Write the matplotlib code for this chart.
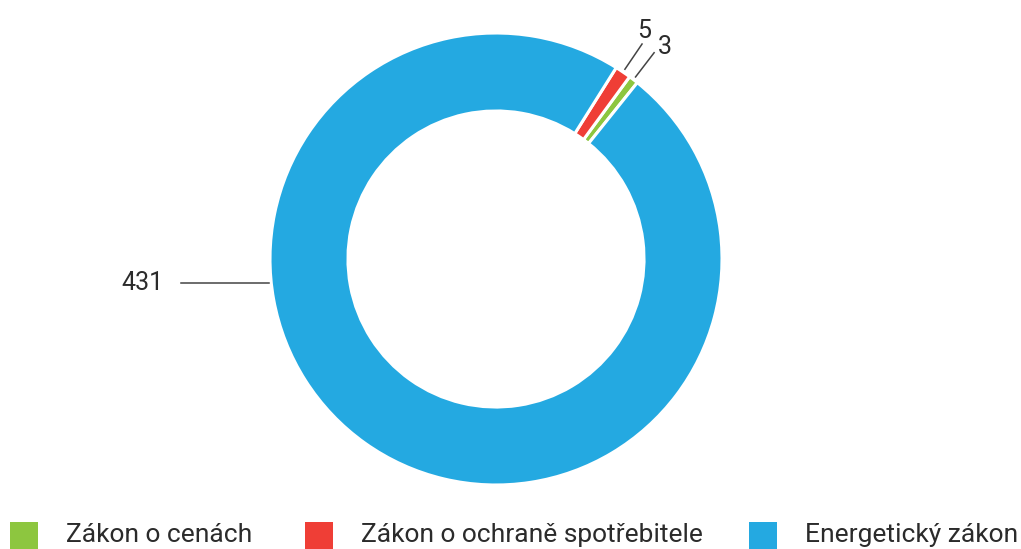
import numpy as np
import matplotlib.pyplot as plt
from matplotlib.patches import Rectangle

labels = ['Zákon o cenách', 'Zákon o ochraně spotřebitele', 'Energetický zákon']
values = [3, 5, 431]
colors = ['#8DC63F', '#EF3E36', '#24A9E1']

plt.rcParams['font.family'] = ['Roboto', 'DejaVu Sans']

W, H = 1021, 549
fig = plt.figure(figsize=(W / 100, H / 100), dpi=100)
cx, cy, R = 496, 259, 226
ax = fig.add_axes([(cx - R) / W, (H - cy - R) / H, 2 * R / W, 2 * R / H])

wedges, _ = ax.pie(values, colors=colors, startangle=51.3, counterclock=True,
                   radius=1.0, wedgeprops=dict(width=0.345, edgecolor='white', linewidth=2.2))
ax.set_xlim(-1, 1)
ax.set_ylim(-1, 1)
ax.set_aspect('equal')

txt_col = '#2b2b2b'
line_col = '#444444'
fs = 18

# small slices: radial leader lines
offsets = {0: (8, 4), 1: (1.5, 9.5)}
for i, w in enumerate(wedges[:2]):
    ang = np.deg2rad((w.theta1 + w.theta2) / 2)
    x0, y0 = 1.015 * np.cos(ang), 1.015 * np.sin(ang)
    x1, y1 = 1.15 * np.cos(ang), 1.15 * np.sin(ang)
    ax.plot([x0, x1], [y0, y1], color=line_col, lw=1.1, clip_on=False)
    ax.annotate(str(values[i]), (x1, y1), xytext=offsets[i], textcoords='offset points',
                ha='center', va='center', fontsize=fs, color=txt_col, annotation_clip=False)

# big slice label at the left
ang = np.deg2rad(185.97)
x0, y0 = np.cos(ang), np.sin(ang)
ax.plot([x0 - 0.01, -1.394], [y0, y0], color=line_col, lw=1.1, clip_on=False)
ax.text(-1.473, y0, str(values[2]), ha='right', va='center', fontsize=fs, color=txt_col)

# legend along the bottom
box_x = [10, 305, 749]
for i, (lab, c) in enumerate(zip(labels, colors)):
    fig.add_artist(Rectangle((box_x[i] / W, 0), 28 / W, 27 / H, transform=fig.transFigure,
                             facecolor=c, edgecolor='none'))
    fig.text((box_x[i] + 56) / W, 7 / H, lab, ha='left', va='baseline',
             fontsize=19, color=txt_col)

fig.savefig('out.png', dpi=100)
